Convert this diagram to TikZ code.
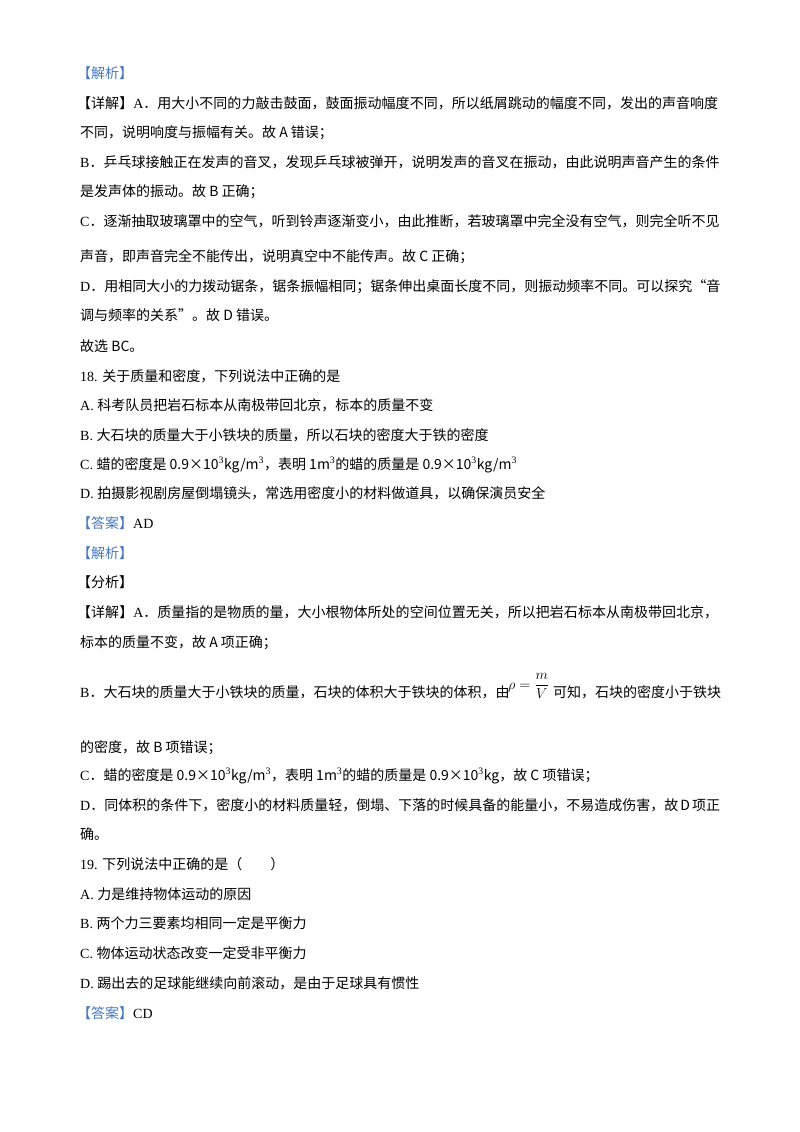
\documentclass[tikz,border=0pt]{standalone}
\usepackage{fontspec}
\setmainfont{Liberation Serif}
\newfontfamily\cjkfont{Noto Sans CJK SC}
\newfontfamily\latinfont{Liberation Serif}
\newXeTeXintercharclass\cjkclass
\newcount\cc
\cc="4E00 \loop\ifnum\cc<"A000 \XeTeXcharclass\cc=\cjkclass \advance\cc by 1 \repeat
\cc="3000 \loop\ifnum\cc<"3040 \XeTeXcharclass\cc=\cjkclass \advance\cc by 1 \repeat
\cc="FF00 \loop\ifnum\cc<"FFF0 \XeTeXcharclass\cc=\cjkclass \advance\cc by 1 \repeat
\XeTeXcharclass"201C=\cjkclass \XeTeXcharclass"201D=\cjkclass
\XeTeXinterchartoks 0 \cjkclass = {\cjkfont}
\XeTeXinterchartoks 4095 \cjkclass = {\cjkfont}
\XeTeXinterchartoks \cjkclass 0 = {\latinfont}
\XeTeXinterchartoks \cjkclass \cjkclass = {\hskip0pt plus 2pt\relax}
\XeTeXinterchartokenstate=1
\definecolor{tagblue}{RGB}{70,120,190}
\newcommand{\spr}[1]{\textsuperscript{\latinfont #1}}
\newcommand{\tagb}[1]{{\color{tagblue}#1}}
\newcommand{\tl}[3][80]{\node (n#2) at (#1,#2+5) {#3};}
\newcommand{\jl}[3][80]{\node (n#2) at (#1,#2+5) {\makebox[\dimexpr 718pt-#1pt\relax][s]{#3}};}
\begin{document}
\begin{tikzpicture}[x=1pt,y=-1pt,every node/.style={inner sep=0pt,anchor=base west,font=\fontsize{14}{16}\selectfont}]
\useasboundingbox (0,0) rectangle (800,1132);
\tl[77]{73}{\tagb{【解析】}}
\jl[77]{103}{【详解】A．用大小不同的力敲击鼓面，鼓面振动幅度不同，所以纸屑跳动的幅度不同，发出的声音响度}
\tl{132}{不同，说明响度与振幅有关。故 A 错误；}
\jl{162}{B．乒乓球接触正在发声的音叉，发现乒乓球被弹开，说明发声的音叉在振动，由此说明声音产生的条件}
\tl{191}{是发声体的振动。故 B 正确；}
\jl{221}{C．逐渐抽取玻璃罩中的空气，听到铃声逐渐变小，由此推断，若玻璃罩中完全没有空气，则完全听不见}
\tl{256}{声音，即声音完全不能传出，说明真空中不能传声。故 C 正确；}
\jl{286}{D．用相同大小的力拨动锯条，锯条振幅相同；锯条伸出桌面长度不同，则振动频率不同。可以探究“音}
\tl{315}{调与频率的关系”。故 D 错误。}
\tl{346}{故选 BC。}
\tl{376}{18. 关于质量和密度，下列说法中正确的是}
\tl{405}{A. 科考队员把岩石标本从南极带回北京，标本的质量不变}
\tl{435}{B. 大石块的质量大于小铁块的质量，所以石块的密度大于铁的密度}
\tl{464}{C. 蜡的密度是 0.9×10\spr{3}kg/m\spr{3}，表明 1m\spr{3}的蜡的质量是 0.9×10\spr{3}kg/m\spr{3}}
\tl{493}{D. 拍摄影视剧房屋倒塌镜头，常选用密度小的材料做道具，以确保演员安全}
\tl[77]{523}{\tagb{【答案】}AD}
\tl[77]{553}{\tagb{【解析】}}
\tl[77]{582}{【分析】}
\jl[77]{612}{【详解】A．质量指的是物质的量，大小根物体所处的空间位置无关，所以把岩石标本从南极带回北京，}
\tl{642}{标本的质量不变，故 A 项正确；}
\node (b1) at (80,697) {B．大石块的质量大于小铁块的质量，石块的体积大于铁块的体积，由};
\node (frm) at (508,689) {$\displaystyle\rho=\frac{m}{V}$};
\node (b2) at (553,697) {可知，石块的密度小于铁块};
\tl{747}{的密度，故 B 项错误；}
\tl{775}{C．蜡的密度是 0.9×10\spr{3}kg/m\spr{3}，表明 1m\spr{3}的蜡的质量是 0.9×10\spr{3}kg，故 C 项错误；}
\jl{805}{D．同体积的条件下，密度小的材料质量轻，倒塌、下落的时候具备的能量小，不易造成伤害，故 D 项正}
\tl{834}{确。}
\tl{864}{19. 下列说法中正确的是（　　）}
\tl{894}{A. 力是维持物体运动的原因}
\tl{923}{B. 两个力三要素均相同一定是平衡力}
\tl{953}{C. 物体运动状态改变一定受非平衡力}
\tl{983}{D. 踢出去的足球能继续向前滚动，是由于足球具有惯性}
\tl[77]{1013}{\tagb{【答案】}CD}
\end{tikzpicture}
\end{document}
